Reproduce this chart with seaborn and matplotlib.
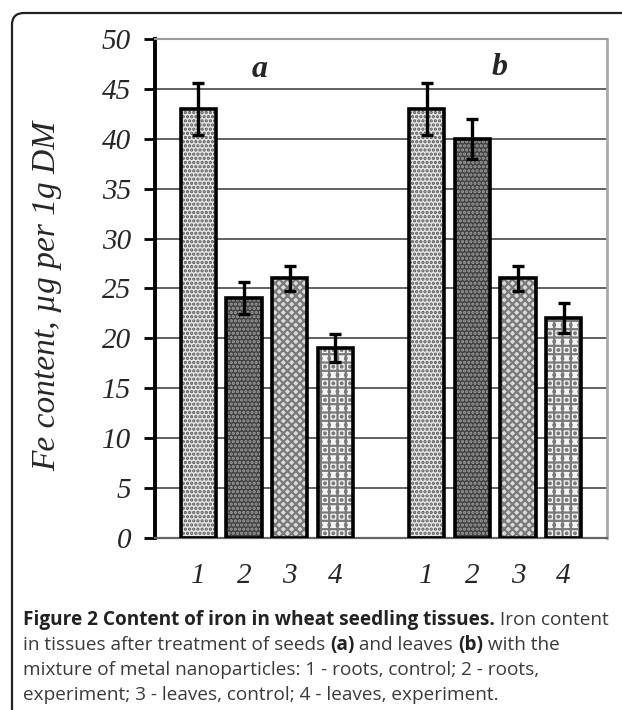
import numpy as np
import pandas as pd
import matplotlib
matplotlib.use('Agg')
import matplotlib.pyplot as plt
import seaborn as sns
from matplotlib.patches import FancyBboxPatch, Rectangle
from matplotlib.transforms import IdentityTransform

# Данные (оценка по рисунку)
groups = ['a', 'b']
bar_labels = ['1', '2', '3', '4']
values_a = [43, 24, 26, 19]
errors_a = [2.6, 1.6, 1.3, 1.4]
values_b = [43, 40, 26, 22]
errors_b = [2.6, 2.0, 1.3, 1.5]
y_ticks = [0, 5, 10, 15, 20, 25, 30, 35, 40, 45, 50]

caption_lines = [
    [('Figure 2 Content of iron in wheat seedling tissues.', 'bold'), (' Iron content', 'normal')],
    [('in tissues after treatment of seeds ', 'normal'), ('(a)', 'bold'), (' and leaves ', 'normal'),
     ('(b)', 'bold'), (' with the', 'normal')],
    [('mixture of metal nanoparticles: 1 - roots, control; 2 - roots,', 'normal')],
    [('experiment; 3 - leaves, control; 4 - leaves, experiment.', 'normal')],
]

# стиль заливки для 1..4
fills = ['#e6e6e6', '#404040', '#dcdcdc', '#f4f4f4']
hatches = ['....', '....', 'xxxx', '++..']
hatch_colors = ['#555555', '#a0a0a0', '#7a7a7a', '#7a7a7a']

df = pd.DataFrame({
    'pos': [0, 1, 2, 3, 5, 6, 7, 8],
    'value': values_a + values_b,
    'err': errors_a + errors_b,
    'label': bar_labels + bar_labels,
    'group': ['a'] * 4 + ['b'] * 4,
})

sns.set_style('white')
plt.rcParams['font.family'] = ['Liberation Serif', 'DejaVu Serif']
plt.rcParams['hatch.linewidth'] = 1.6

fig = plt.figure(figsize=(6.22, 7.10), dpi=100)
ax = fig.add_axes([0.249, 0.2423, 0.727, 0.7028])

sns.barplot(data=df, x='pos', y='value', native_scale=True, width=0.77,
            color='white', errorbar=None, ax=ax, zorder=3)

for i, p in enumerate(ax.patches):
    k = i % 4
    p.set_facecolor(fills[k])
    p.set_hatch(hatches[k])
    p.set_edgecolor(hatch_colors[k])
    p.set_linewidth(0)
    ax.add_patch(Rectangle((p.get_x(), p.get_y()), p.get_width(), p.get_height(),
                           fill=False, edgecolor='black', linewidth=2.6, zorder=4))

ax.errorbar(df['pos'], df['value'], yerr=df['err'], fmt='none', ecolor='black',
            elinewidth=2.4, capsize=4.6, capthick=2.4, zorder=5)

ax.set_xlim(-0.95, 8.95)
ax.set_ylim(0, 50)
ax.set_yticks(y_ticks)
ax.set_yticklabels([str(t) for t in y_ticks], fontstyle='italic', fontsize=21)
ax.set_xticks(df['pos'])
ax.set_xticklabels(df['label'], fontstyle='italic', fontsize=21)
ax.tick_params(axis='y', direction='out', length=8, width=2, color='black', pad=9, left=True)
ax.tick_params(axis='x', length=0, pad=18)

ax.yaxis.grid(True, color='#555555', linewidth=1.3)
ax.set_axisbelow(True)

ax.spines['left'].set_color('black')
ax.spines['left'].set_linewidth(2.8)
ax.spines['bottom'].set_color('#666666')
ax.spines['bottom'].set_linewidth(1.6)
ax.spines['top'].set_color('#9a9a9a')
ax.spines['top'].set_linewidth(1.5)
ax.spines['right'].set_color('#aaaaaa')
ax.spines['right'].set_linewidth(2)

ax.set_xlabel('')
ax.set_ylabel('Fe content, µg per 1g DM', fontstyle='italic', fontsize=24)
ax.yaxis.set_label_coords(-0.239, 0.485)
ax.yaxis.label.set_va('center')

# подписи групп
ax.text(1.35, 46.9, groups[0], fontsize=23, fontstyle='italic', fontweight='bold',
        ha='center', va='center')
ax.text(6.6, 47.1, groups[1], fontsize=23, fontstyle='italic', fontweight='bold',
        ha='center', va='center')

# рамка
frame = FancyBboxPatch((12, -20), 640, 717, boxstyle='round,pad=0,rounding_size=12',
                       transform=IdentityTransform(), fill=False,
                       edgecolor='#222222', linewidth=1.6)
fig.add_artist(frame)

# подпись к рисунку
renderer = fig.canvas.get_renderer()
cap_size = 13.7
baselines = [625, 650, 675, 700]
for line, yb in zip(caption_lines, baselines):
    x = 23
    for txt, w in line:
        t = fig.text(x / 622, 1 - yb / 710, txt, fontsize=cap_size, fontweight=w,
                     family=['Open Sans', 'DejaVu Sans'],
                     color='#222222' if w == 'bold' else '#3a3a3a',
                     ha='left', va='baseline')
        bb = t.get_window_extent(renderer)
        x += bb.width

fig.savefig('out.png', dpi=100)
